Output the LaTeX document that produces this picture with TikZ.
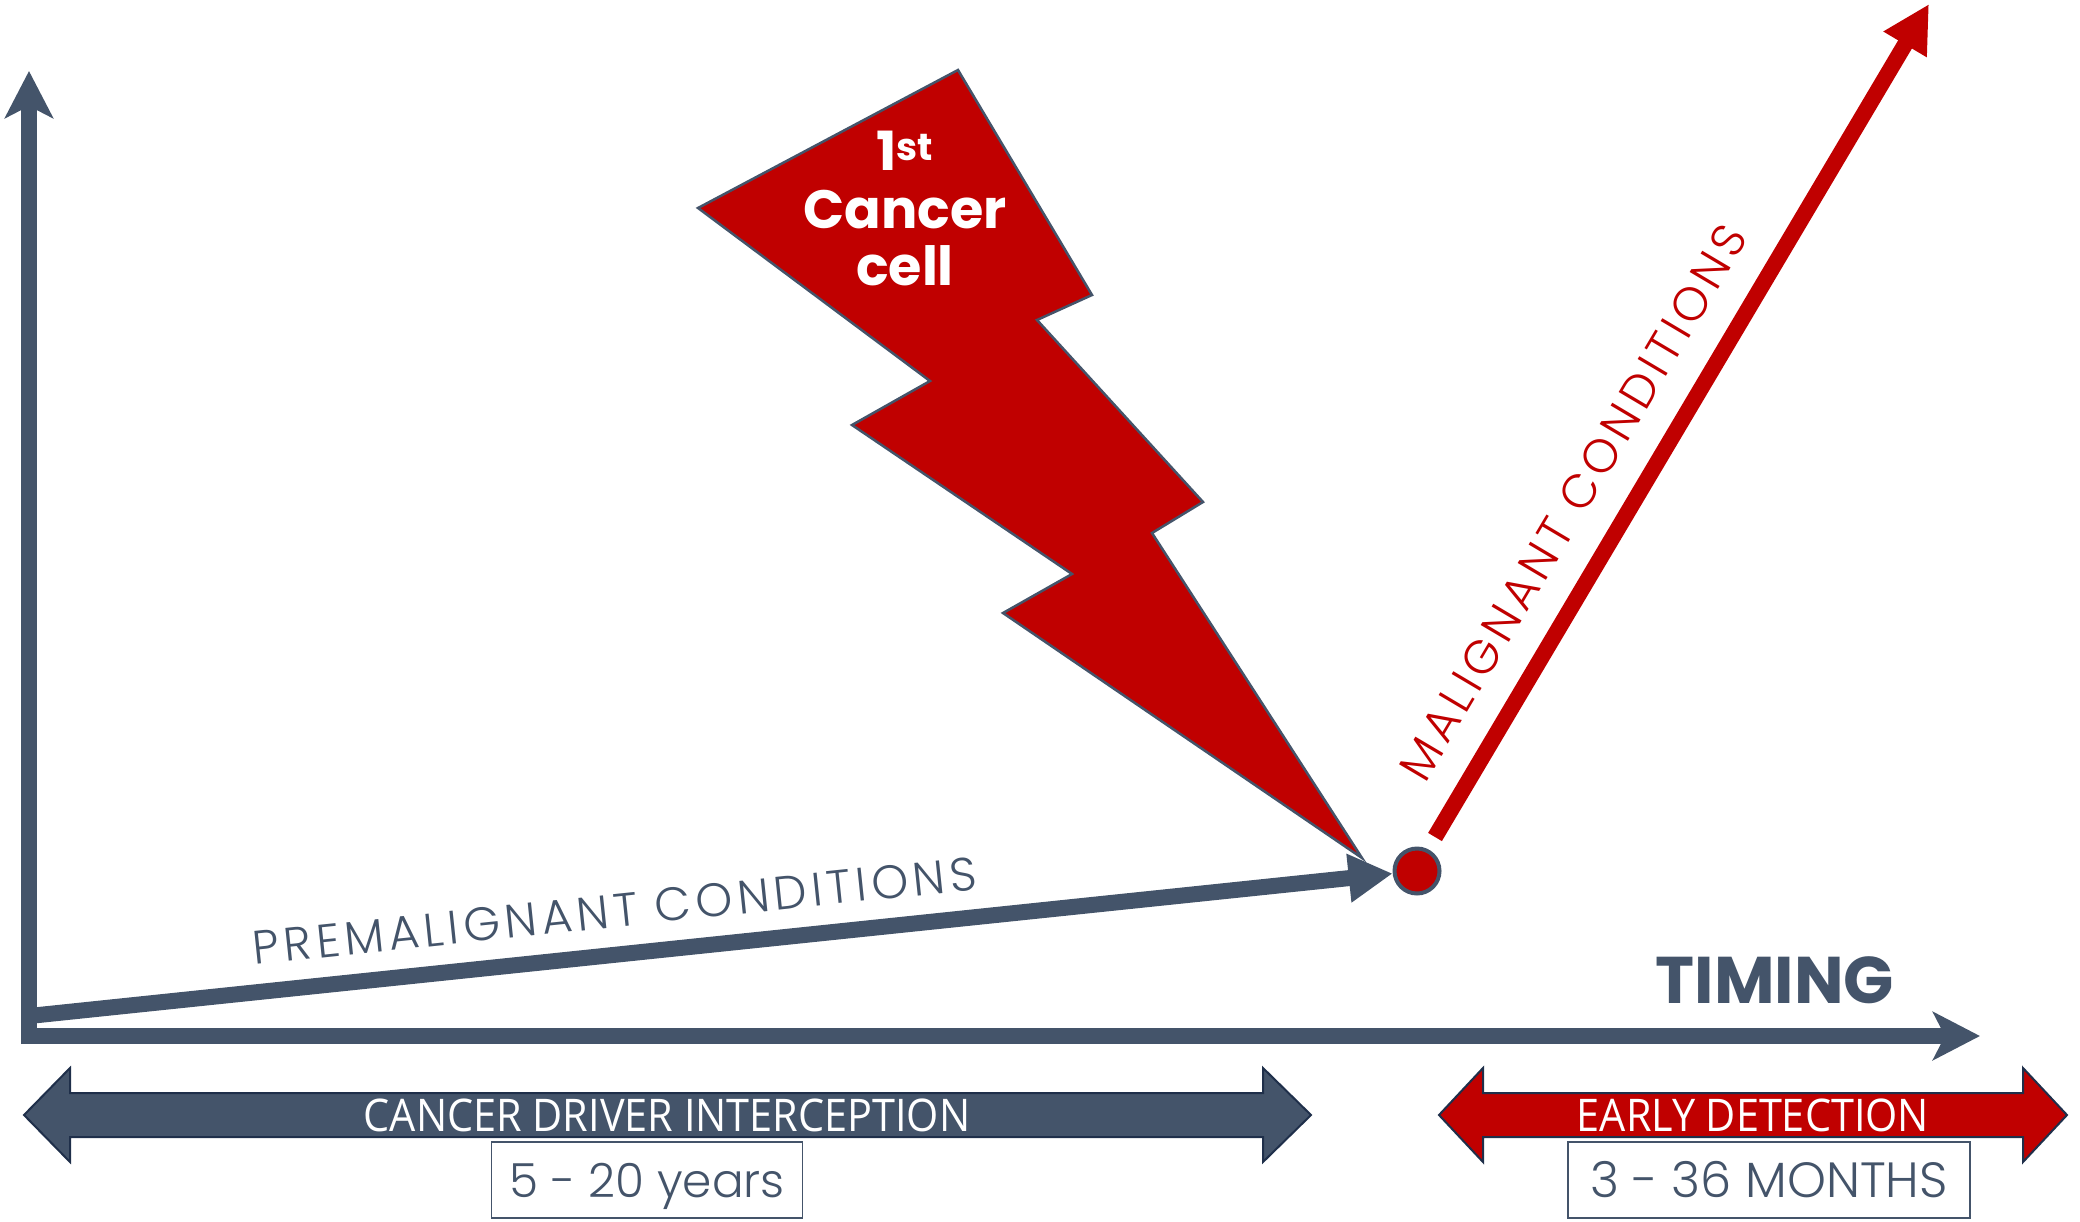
\documentclass[tikz,border=0pt]{standalone}
\usepackage{fontspec}
\usetikzlibrary{arrows.meta}
\newfontfamily\popfont{Poppins}
\newfontfamily\poplight{Poppins Light}[LetterSpace=10]
\newfontfamily\poplightb{Poppins Light}
\newfontfamily\condfont[FakeStretch=0.92]{Open Sans}
\definecolor{cred}{HTML}{C00000}
\definecolor{cgray}{HTML}{44546A}
\definecolor{cnavy}{HTML}{1F2F4A}
\begin{document}
\begin{tikzpicture}[x=1pt,y=-1pt,
  axis/.style={draw=cgray, line width=16pt, -{Stealth[length=47pt,width=48pt,inset=12pt]}},
  premal/.style={draw=cgray, line width=16pt, -{Triangle[length=44pt,width=46pt]}},
  malig/.style={draw=cred, line width=16pt, -{Triangle[length=47pt,width=47pt]}},
  dotnode/.style={circle, fill=cred, draw=cgray, line width=4pt, minimum size=45pt, inner sep=0pt},
  bolt/.style={fill=cred, draw=cgray, line width=2.5pt, line join=miter},
  bandarrow/.style={draw=cnavy, line width=2pt, line join=miter},
  boltlbl/.style={text=white, font=\popfont\bfseries\fontsize{54}{57}\selectfont, anchor=base, inner sep=0pt},
  condlbl/.style={text=cgray, font=\poplight\fontsize{47}{52}\selectfont, inner sep=0pt},
  bandlbl/.style={text=white, font=\condfont\fontsize{45}{54}\selectfont, inner sep=0pt},
  rangebox/.style={draw=cgray, line width=1.5pt, fill=white, minimum height=76pt, inner sep=0pt, text=cgray, text height=34pt, text depth=0pt}
]
\useasboundingbox (0,0) rectangle (2080,1221);

% lightning bolt
\draw[bolt] (958,70) -- (1092,295) -- (1037,320) -- (1203,502) -- (1152,533) -- (1362,858)
  -- (1003,613) -- (1072,574) -- (852,425) -- (930,381) -- (698,208) -- cycle;
\node[boltlbl] (t1) at (905,170) {1\textsuperscript{st}};
\node[boltlbl] (t2) at (905,228) {Cancer};
\node[boltlbl] (t3) at (905,285) {cell};

% axes
\coordinate (vbot) at (29,1044);
\coordinate (vtop) at (29,71);
\coordinate (hleft) at (21,1036);
\coordinate (hright) at (1980,1036);
\draw[axis] (vbot) -- (vtop);
\draw[axis] (hleft) -- (hright);
\node[text=cgray, font=\popfont\bfseries\fontsize{66}{70}\selectfont, anchor=base, inner sep=0pt] (timing) at (1775,1003) {TIMING};

% premalignant arrow and dot
\node[dotnode] (dot) at (1417,871) {};
\coordinate (p0) at (29,1016);
\draw[premal] (p0) -- node[condlbl, sloped, pos=0.433, above=19pt] (premtxt) {PREMALIGNANT CONDITIONS} (dot);

% malignant arrow
\coordinate (m0) at (1435,837);
\coordinate (m1) at (1929,4);
\draw[malig] (m0) -- node[condlbl, text=cred, sloped, pos=0.37, above=27pt] (maltxt) {MALIGNANT CONDITIONS} (m1);

% bottom range arrows
\draw[bandarrow, fill=cgray] (24,1115) -- (70,1068) -- (70,1093) -- (1263,1093) -- (1263,1068) -- (1311,1115)
  -- (1263,1162) -- (1263,1137) -- (70,1137) -- (70,1162) -- cycle;
\node[bandlbl] (cdi) at (667,1115) {CANCER DRIVER INTERCEPTION};
\draw[bandarrow, fill=cred] (1439,1115) -- (1483,1068) -- (1483,1093) -- (2023,1093) -- (2023,1068) -- (2067,1115)
  -- (2023,1162) -- (2023,1137) -- (1483,1137) -- (1483,1162) -- cycle;
\node[bandlbl] (ed) at (1753,1115) {EARLY DETECTION};

\node[rangebox, minimum width=311pt, font=\poplightb\fontsize{47}{54}\selectfont] (yrs) at (647,1180) {5 - 20 years};
\node[rangebox, minimum width=402pt, font=\poplightb\fontsize{49.5}{54}\selectfont] (mos) at (1769,1180) {3 - 36 MONTHS};
\end{tikzpicture}
\end{document}
